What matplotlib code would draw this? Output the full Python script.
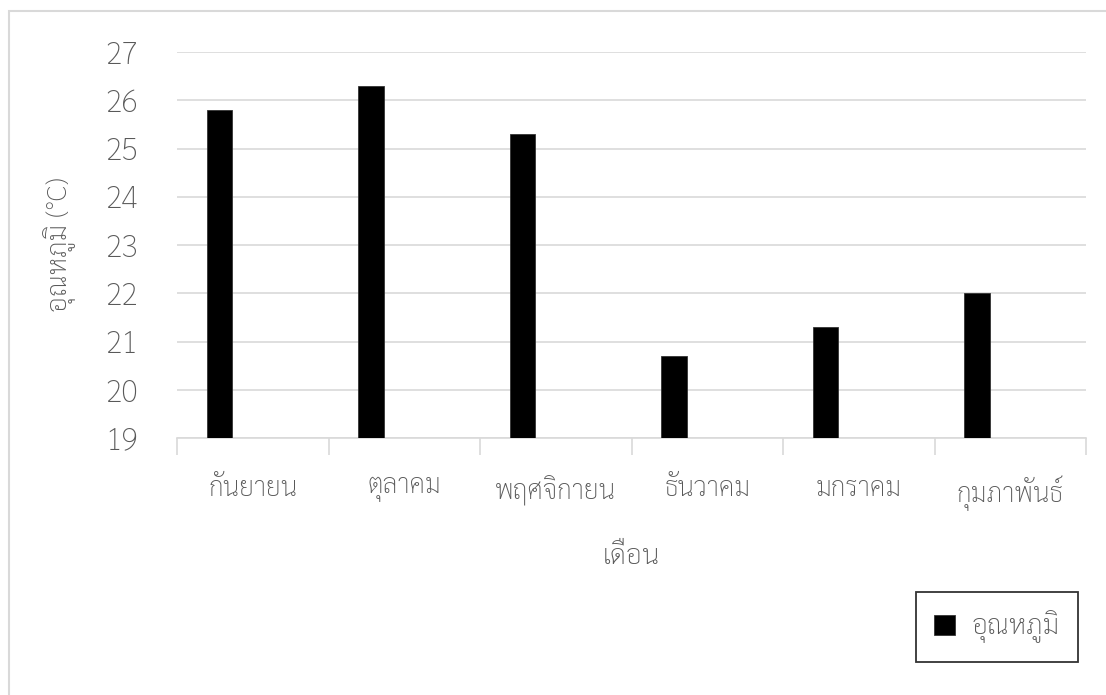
import matplotlib
matplotlib.use("Agg")
import matplotlib.pyplot as plt
from matplotlib.patches import Rectangle
import numpy as np

plt.rcParams['font.family'] = ['Sarabun', 'DejaVu Sans']
plt.rcParams['font.weight'] = 'light'

months = ["กันยายน", "ตุลาคม", "พฤศจิกายน", "ธันวาคม", "มกราคม", "กุมภาพันธ์"]
temperature = [25.8, 26.3, 25.3, 20.7, 21.3, 22.0]
y_ticks = [19, 20, 21, 22, 23, 24, 25, 26, 27]
series_name = "อุณหภูมิ"
y_title = "อุณหภูมิ (°C)"
x_title = "เดือน"

text_color = "#595959"
grid_color = "#d9d9d9"
W, H = 1106, 695

fig = plt.figure(figsize=(W / 100, H / 100), dpi=100)
fig.patch.set_facecolor("white")

# outer chart-area frame (only left and top edges fall inside the canvas)
fig.add_artist(Rectangle((9 / W, -0.1), 1.2, 1 - 11.5 / H + 0.1,
                         transform=fig.transFigure, fill=False,
                         edgecolor=grid_color, linewidth=1.5))

ax = fig.add_axes([177 / W, 1 - 438 / H, (1086 - 177) / W, (438 - 52) / H])

x = np.arange(len(months))
ax.bar(x - 0.22, np.array(temperature) - 19, bottom=19, width=0.17,
       color="black", edgecolor="#333333", linewidth=0.6, zorder=3, label=series_name)

ax.set_xlim(-0.5, len(months) - 0.5)
ax.set_ylim(19, 27)
ax.set_yticks(y_ticks)
ax.set_yticklabels([str(v) for v in y_ticks])
ax.yaxis.grid(True, color=grid_color, linewidth=1.2, zorder=0)
ax.set_axisbelow(True)

ax.set_xticks(x)
ax.set_xticklabels(months)
ax.set_xticks(np.arange(-0.5, len(months)), minor=True)
ax.tick_params(axis='x', which='major', length=0, pad=27, labelsize=19, labelcolor=text_color)
ax.tick_params(axis='x', which='minor', length=12, width=1.2, color=grid_color, direction='out')
ax.tick_params(axis='y', length=0, pad=28, labelsize=22, labelcolor=text_color)

for side in ("top", "right", "left"):
    ax.spines[side].set_visible(False)
ax.spines["bottom"].set_color(grid_color)
ax.spines["bottom"].set_linewidth(1.2)

fig.text(60 / W, 1 - 245 / H, y_title, rotation=90, ha="center", va="center",
         fontsize=20, color=text_color)
fig.text(631.5 / W, 1 - 557 / H, x_title, ha="center", va="center",
         fontsize=20, color=text_color)

leg = ax.legend(loc="center", bbox_to_anchor=(997 / W, 1 - 627 / H),
                bbox_transform=fig.transFigure, fontsize=20, frameon=True,
                fancybox=False, edgecolor="black", handlelength=0.75, handleheight=0.75,
                handletextpad=0.6, borderpad=0.65, labelcolor=text_color)
leg.get_frame().set_linewidth(1.3)

fig.savefig("out.png", dpi=100, facecolor="white")
